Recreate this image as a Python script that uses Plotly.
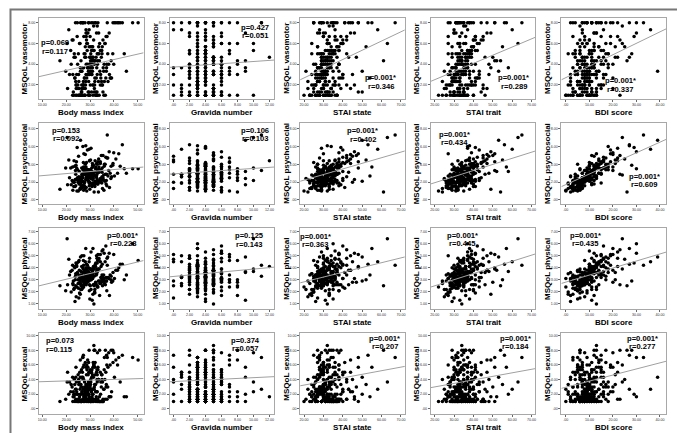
import plotly.graph_objects as go

# one value per woman, 240 women (lines of 20)
bmi = [24.5, 28.1, 31.2, 22.8, 26.4, 29.7, 33.5, 25.3, 27.9, 20.6, 30.4, 35.8, 23.7, 28.6, 26.0, 31.9, 17.4, 29.2, 38.1, 27.0,
       25.8, 29.4, 22.1, 32.6, 27.3, 34.9, 24.2, 30.8, 28.0, 36.7, 26.5, 31.3, 23.0, 29.9, 40.2, 27.6, 33.1, 25.1, 21.4, 30.1,
       26.9, 30.5, 23.4, 33.8, 28.4, 37.5, 25.6, 31.7, 29.0, 24.7, 35.2, 27.8, 32.2, 19.8, 29.6, 39.0, 26.2, 30.9, 28.7, 34.4,
       27.4, 31.0, 24.0, 34.6, 28.9, 38.4, 26.1, 32.4, 29.5, 22.5, 36.0, 30.2, 25.4, 33.0, 28.3, 44.3, 27.1, 31.6, 23.9, 35.5,
       28.2, 31.8, 25.0, 35.1, 29.3, 39.6, 26.7, 33.2, 30.0, 23.6, 36.9, 27.5, 32.9, 29.8, 41.5, 26.3, 31.4, 34.0, 24.8, 30.6,
       28.8, 32.3, 25.7, 36.3, 30.3, 40.8, 27.2, 33.7, 29.1, 24.3, 37.8, 31.1, 26.6, 34.7, 29.4, 45.2, 28.5, 32.0, 21.9, 35.9,
       29.3, 33.0, 26.4, 37.1, 30.7, 42.0, 27.7, 34.3, 31.5, 25.2, 38.8, 28.9, 35.0, 30.2, 50.1, 27.0, 32.7, 36.4, 23.3, 31.2,
       30.0, 33.6, 27.1, 38.0, 31.0, 43.5, 28.3, 35.4, 32.1, 26.0, 39.5, 29.6, 36.6, 20.4, 47.8, 28.0, 33.3, 31.7, 24.6, 37.2,
       27.6, 32.8, 24.9, 30.3, 35.4, 26.8, 29.0, 33.9, 22.7, 31.5, 28.6, 37.0, 25.5, 30.9, 27.2, 34.1, 29.7, 23.8, 32.0, 28.3,
       31.1, 26.2, 29.3, 36.2, 24.4, 30.6, 33.3, 27.9, 38.7, 25.9, 29.9, 32.5, 21.1, 34.8, 28.8, 31.8, 26.6, 42.6, 30.0, 27.4,
       29.5, 33.1, 25.3, 31.4, 27.0, 35.7, 28.4, 24.1, 32.3, 30.8, 26.9, 37.4, 29.1, 33.6, 23.2, 31.0, 28.0, 34.5, 26.1, 30.4,
       32.6, 27.7, 30.2, 25.8, 34.3, 29.4, 36.8, 26.5, 31.7, 28.9, 33.0, 24.0, 39.9, 30.5, 27.3, 35.0, 29.8, 22.9, 32.9, 28.2]
gravida = [3, 4, 2, 5, 4, 3, 6, 0, 4, 5, 3, 2, 4, 7, 5, 3, 4, 1, 6, 5,
           4, 3, 5, 2, 6, 4, 3, 5, 8, 4, 2, 3, 5, 4, 6, 3, 10, 4, 5, 1,
           5, 4, 3, 6, 2, 4, 5, 3, 7, 4, 0, 5, 3, 6, 4, 2, 5, 9, 3, 4,
           3, 5, 4, 2, 6, 3, 4, 5, 1, 4, 3, 6, 5, 8, 4, 2, 3, 5, 11, 4,
           4, 2, 5, 3, 6, 4, 7, 3, 5, 4, 0, 3, 6, 5, 2, 4, 3, 8, 5, 4,
           5, 3, 4, 6, 2, 5, 3, 4, 9, 3, 6, 4, 1, 5, 3, 7, 4, 2, 10, 6,
           3, 4, 6, 2, 5, 3, 4, 7, 5, 0, 4, 3, 6, 5, 8, 4, 2, 5, 12, 3,
           4, 5, 3, 6, 4, 2, 7, 5, 3, 9, 4, 1, 6, 10, 3, 5, 0, 8, 4, 11,
           4, 3, 5, 2, 4, 3, 6, 4, 5, 3, 2, 4, 5, 3, 7, 4, 1, 5, 3, 4,
           3, 5, 4, 6, 3, 2, 4, 5, 3, 4, 6, 5, 0, 4, 3, 5, 2, 4, 8, 3,
           5, 4, 3, 4, 2, 5, 6, 3, 4, 5, 3, 7, 4, 2, 5, 3, 4, 6, 1, 4,
           4, 3, 6, 5, 4, 3, 2, 5, 4, 9, 3, 4, 5, 6, 3, 4, 2, 5, 4, 3]
stai_state = [20, 26, 23, 29, 25, 31, 22, 27, 24, 30, 21, 28, 26, 32, 23, 25, 29, 27, 24, 28,
              23, 28, 25, 31, 27, 34, 22, 29, 26, 33, 24, 30, 28, 35, 25, 27, 32, 29, 26, 30,
              25, 30, 27, 33, 29, 36, 24, 31, 28, 35, 26, 32, 30, 38, 27, 29, 34, 31, 28, 32,
              26, 31, 28, 35, 30, 38, 25, 33, 29, 37, 27, 34, 31, 40, 28, 30, 36, 32, 29, 33,
              27, 32, 29, 37, 31, 41, 26, 34, 30, 39, 28, 35, 32, 43, 29, 31, 38, 33, 30, 36,
              28, 33, 30, 39, 32, 44, 27, 36, 31, 42, 29, 37, 34, 47, 30, 32, 40, 35, 31, 38,
              30, 35, 32, 42, 34, 48, 29, 38, 33, 45, 31, 40, 36, 52, 32, 34, 44, 37, 33, 55,
              33, 38, 35, 46, 37, 53, 31, 42, 36, 50, 34, 58, 40, 63, 35, 44, 48, 61, 39, 67,
              37, 27, 31, 33, 29, 41, 30, 35, 26, 32, 28, 38, 30, 34, 25, 31, 36, 29, 33, 27,
              46, 30, 37, 32, 27, 35, 29, 43, 30, 33, 24, 31, 36, 28, 32, 39, 29, 34, 26, 30,
              50, 29, 31, 38, 33, 26, 36, 30, 45, 32, 34, 28, 40, 30, 33, 37, 27, 31, 35, 29,
              54, 34, 29, 40, 32, 37, 30, 48, 33, 27, 35, 31, 38, 29, 34, 42, 30, 36, 28, 32]
stai_trait = [22, 29, 26, 32, 28, 34, 24, 30, 27, 33, 25, 31, 29, 35, 26, 28, 32, 30, 27, 31,
              24, 30, 27, 34, 29, 37, 25, 31, 28, 36, 26, 32, 30, 38, 27, 29, 35, 31, 28, 33,
              26, 32, 29, 36, 31, 39, 27, 33, 30, 38, 28, 34, 32, 40, 29, 31, 37, 33, 30, 35,
              27, 33, 30, 38, 32, 41, 28, 35, 31, 40, 29, 36, 33, 43, 30, 32, 39, 34, 31, 37,
              29, 35, 32, 40, 34, 44, 30, 37, 33, 42, 31, 38, 35, 46, 32, 34, 41, 36, 33, 39,
              30, 36, 33, 42, 35, 47, 31, 39, 34, 45, 32, 40, 37, 50, 33, 35, 44, 38, 34, 41,
              32, 38, 35, 45, 37, 51, 33, 41, 36, 48, 34, 43, 39, 55, 35, 37, 47, 40, 36, 57,
              34, 40, 37, 49, 39, 56, 35, 45, 38, 53, 36, 60, 42, 63, 37, 47, 51, 54, 41, 65,
              35, 29, 38, 33, 44, 32, 36, 34, 30, 40, 30, 36, 32, 39, 34, 28, 37, 33, 41, 31,
              36, 33, 46, 32, 38, 30, 35, 40, 33, 49, 33, 29, 37, 32, 42, 35, 31, 39, 34, 27,
              35, 48, 33, 39, 29, 36, 41, 34, 32, 52, 32, 38, 34, 30, 40, 36, 33, 43, 31, 37,
              30, 36, 51, 33, 40, 35, 43, 32, 37, 58, 35, 31, 39, 33, 45, 37, 32, 41, 34, 38]
bdi = [0, 2, 1, 4, 3, 5, 2, 6, 1, 3, 4, 0, 2, 5, 3, 1, 6, 4, 2, 3,
       3, 5, 7, 2, 6, 4, 8, 5, 9, 3, 6, 7, 4, 5, 2, 8, 6, 3, 7, 5,
       6, 8, 4, 10, 7, 5, 9, 11, 6, 8, 7, 4, 10, 9, 6, 8, 5, 11, 7, 9,
       8, 10, 6, 12, 9, 7, 11, 13, 8, 10, 5, 9, 12, 11, 7, 10, 8, 13, 9, 11,
       10, 12, 7, 14, 9, 11, 13, 8, 15, 10, 12, 6, 11, 14, 9, 13, 10, 12, 15, 11,
       12, 15, 9, 17, 11, 14, 10, 18, 13, 16, 8, 12, 15, 11, 17, 14, 10, 13, 16, 12,
       14, 18, 11, 22, 16, 13, 20, 15, 24, 12, 17, 19, 10, 21, 15, 18, 13, 23, 16, 20,
       18, 25, 15, 30, 21, 27, 17, 23, 22, 39, 28, 36, 16, 24, 30, 20, 19, 26, 29, 33,
       6, 9, 7, 11, 8, 4, 10, 7, 13, 6, 9, 5, 11, 8, 15, 7, 10, 8, 6, 12,
       8, 5, 10, 7, 13, 9, 6, 11, 8, 3, 10, 7, 16, 8, 12, 6, 9, 13, 8, 19,
       7, 11, 9, 6, 12, 10, 8, 14, 7, 11, 9, 17, 8, 12, 5, 10, 14, 9, 7, 22,
       10, 7, 12, 9, 15, 11, 8, 13, 10, 12, 6, 11, 20, 9, 13, 10, 16, 8, 11, 27]
vasomotor = [1, 2, 1, 3, 1.33, 4, 2.33, 1, 5, 1.67, 3.33, 1, 2.67, 6, 1, 2, 4.33, 1.33, 3, 8,
             1, 2.33, 4, 1, 3.67, 5.33, 1.67, 3, 1, 6.67, 2, 4.67, 1.33, 3.33, 8, 2.67, 1, 5, 3, 2,
             1.67, 3, 5, 1, 4, 2.33, 6, 1.33, 3.67, 8, 2, 4.67, 1, 3.33, 5.67, 2.67, 1, 4.33, 7, 3,
             2, 3.33, 1, 5.33, 4, 2.67, 8, 1.33, 3.67, 6.33, 2.33, 4.67, 1, 3, 7.33, 5, 2, 4.33, 8, 3.67,
             2.33, 4, 1.67, 5.67, 3, 8, 1, 4.33, 6.67, 2.67, 3.67, 5, 1.33, 4.67, 8, 3.33, 2, 6, 4, 5.33,
             3, 4.33, 1, 6, 3.67, 8, 2.33, 5, 7, 2, 4, 5.67, 1.67, 4.67, 8, 3.33, 6.33, 2.67, 5.33, 4,
             3.33, 5, 1.33, 6.67, 4, 8, 2.67, 5.33, 7.67, 3, 4.33, 6, 2, 5.67, 8, 3.67, 7, 1, 4.67, 8,
             4, 5.67, 2, 7, 4.67, 8, 3, 6.33, 8, 3.33, 5, 7.33, 2.67, 6, 8, 1.67, 8, 4.33, 6.67, 8,
             1, 3.67, 2, 5, 1.33, 8, 3, 4.33, 1, 6.33, 2.67, 4, 1.67, 5.67, 8, 3.33, 1, 4.67, 2.33, 7,
             2, 4.33, 1, 6, 3, 1.33, 5, 8, 2.67, 3.67, 1, 4.67, 7.33, 2.33, 5.33, 1.67, 3.33, 8, 4, 6.67,
             1.33, 4, 2.33, 5.33, 1, 3.33, 6.67, 2, 8, 4.33, 1.67, 5, 3, 7, 1, 3.67, 5.67, 2.67, 8, 4.67,
             2.67, 1, 4.33, 6, 2, 8, 3.33, 1.33, 5.33, 3.67, 7.67, 2.33, 4, 8, 1.67, 5, 3, 6.33, 1, 4.67]
psychosocial = [1.0, 1.4, 1.9, 1.1, 2.2, 1.6, 0.9, 2.0, 1.3, 1.7, 2.4, 1.1, 1.5, 1.0, 2.1, 1.8, 1.2, 2.6, 1.4, 1.6,
                1.3, 2.1, 1.7, 2.6, 1.1, 1.9, 2.3, 1.5, 2.9, 1.8, 1.4, 2.4, 2.0, 1.2, 2.7, 1.6, 2.2, 1.0, 2.5, 1.9,
                1.6, 2.4, 2.0, 3.1, 1.4, 2.7, 2.2, 1.8, 3.4, 2.5, 1.3, 2.9, 2.1, 3.6, 1.9, 2.6, 2.3, 1.7, 3.0, 2.4,
                2.0, 2.8, 1.6, 3.4, 2.4, 3.0, 1.9, 3.7, 2.6, 2.2, 4.0, 2.9, 1.8, 3.2, 2.5, 3.5, 2.1, 2.7, 3.3, 2.3,
                2.3, 3.1, 2.0, 3.6, 2.7, 4.1, 2.5, 3.3, 1.9, 3.8, 2.9, 3.5, 2.4, 4.4, 3.0, 2.6, 3.9, 2.2, 3.4, 3.2,
                2.6, 3.5, 2.2, 4.0, 3.1, 4.6, 2.8, 3.7, 2.4, 4.3, 3.3, 3.9, 2.9, 5.0, 3.4, 3.0, 4.2, 2.7, 3.6, 3.8,
                3.0, 4.0, 2.5, 4.7, 3.6, 5.2, 3.3, 4.3, 2.8, 4.9, 3.8, 5.6, 3.1, 4.5, 3.5, 6.0, 4.1, 2.9, 4.4, 3.7,
                3.4, 4.6, 3.0, 5.4, 4.1, 6.2, 3.7, 5.0, 4.4, 6.7, 3.9, 5.7, 4.8, 7.0, 3.5, 5.1, 4.3, 0.9, 5.9, 7.3,
                1.9, 2.8, 2.2, 3.3, 2.5, 1.4, 3.0, 2.1, 3.7, 1.8, 2.6, 1.6, 3.2, 2.4, 4.2, 2.0, 2.9, 2.3, 1.5, 3.5,
                2.3, 1.6, 2.9, 2.1, 3.6, 2.7, 1.8, 3.1, 2.4, 1.2, 2.8, 2.0, 4.5, 2.2, 3.4, 1.7, 2.6, 3.8, 2.5, 5.2,
                2.1, 3.0, 2.6, 1.9, 3.4, 2.8, 2.3, 3.9, 2.0, 3.2, 2.5, 4.7, 2.2, 3.5, 1.5, 2.9, 4.0, 2.4, 1.9, 5.8,
                2.7, 2.0, 3.3, 2.4, 4.1, 3.0, 2.2, 3.6, 2.8, 3.2, 1.8, 2.9, 5.3, 2.5, 3.7, 2.6, 4.4, 2.1, 3.1, 6.1]
physical = [2.4, 3.0, 1.8, 2.7, 3.3, 2.1, 2.9, 1.5, 3.5, 2.6, 2.2, 3.1, 1.2, 2.8, 3.4, 2.0, 2.5, 3.2, 1.7, 2.9,
            2.7, 3.3, 2.0, 3.6, 2.4, 3.0, 1.6, 3.8, 2.8, 3.2, 2.2, 3.5, 2.9, 1.4, 3.1, 2.6, 3.9, 2.3, 3.4, 2.5,
            2.9, 3.5, 2.3, 3.9, 2.6, 3.2, 1.9, 4.1, 3.0, 3.6, 2.5, 3.3, 4.3, 2.1, 3.4, 2.8, 3.7, 1.3, 3.1, 2.7,
            3.1, 3.7, 2.5, 4.1, 2.8, 3.4, 2.2, 4.4, 3.2, 3.8, 2.7, 3.5, 4.6, 2.4, 3.6, 3.0, 3.9, 1.0, 3.3, 2.9,
            3.3, 3.9, 2.7, 4.3, 3.0, 3.6, 2.4, 4.6, 3.4, 4.0, 2.9, 3.7, 4.8, 2.6, 3.8, 3.2, 4.1, 1.7, 3.5, 3.1,
            3.5, 4.1, 2.9, 4.5, 3.2, 3.8, 2.6, 4.8, 3.6, 4.2, 3.1, 3.9, 5.0, 2.8, 4.0, 3.4, 4.3, 2.2, 3.7, 5.2,
            3.7, 4.4, 3.1, 4.8, 3.4, 4.0, 2.8, 5.1, 3.9, 4.5, 3.3, 4.2, 5.4, 3.0, 4.6, 3.6, 5.0, 2.6, 4.1, 5.6,
            3.9, 4.7, 3.2, 5.2, 3.6, 4.3, 3.0, 5.5, 4.1, 4.9, 2.9, 4.5, 5.8, 6.4, 6.0, 3.8, 5.1, 2.5, 4.4, 4.2,
            2.8, 3.5, 3.0, 3.9, 3.2, 2.3, 3.6, 2.9, 4.2, 2.6, 3.4, 2.1, 3.8, 3.1, 4.6, 2.7, 3.3, 3.0, 1.9, 4.0,
            3.1, 2.5, 3.6, 2.9, 4.1, 3.3, 2.4, 3.8, 3.0, 1.8, 3.5, 2.7, 4.7, 3.2, 3.9, 2.6, 3.4, 4.3, 3.0, 5.0,
            2.9, 3.7, 3.3, 2.6, 4.0, 3.4, 3.0, 4.4, 2.8, 3.8, 3.2, 4.9, 3.1, 3.9, 2.2, 3.5, 4.5, 3.2, 2.7, 5.3,
            3.4, 2.8, 3.9, 3.1, 4.5, 3.6, 2.9, 4.1, 3.3, 3.7, 2.5, 3.5, 5.1, 3.0, 4.2, 3.4, 4.8, 2.6, 3.8, 5.6]
sexual = [1, 1.33, 2, 1, 3, 1.67, 4, 1, 2.33, 5, 1.33, 2.67, 1, 6, 2, 3.33, 1, 4.67, 1.67, 7,
          1, 2, 3.33, 1.33, 4, 1, 2.67, 5.33, 1.67, 3, 1, 6.33, 2.33, 1.33, 4.33, 2, 7.67, 1, 3.67, 5,
          1.33, 2.33, 4, 1, 3, 5.67, 1.67, 2.67, 6.67, 1, 3.67, 2, 4.67, 1.33, 8, 2.33, 3.33, 1, 5.33, 2,
          1.67, 2.67, 4.33, 1, 3.33, 6, 2, 1.33, 5, 3, 7, 1, 3.67, 2.33, 5.67, 1.67, 4, 8.67, 2.67, 1,
          2, 3, 4.67, 1, 3.67, 6.33, 2.33, 1.33, 5.33, 3.33, 7.33, 1.67, 4, 2.67, 6, 1, 4.33, 8, 2, 5,
          2.33, 3.33, 5, 1.33, 4, 6.67, 2.67, 1, 5.67, 3.67, 7.67, 2, 4.33, 3, 6.33, 1.67, 4.67, 8, 2.33, 5.33,
          2.67, 3.67, 5.33, 1.33, 4.33, 7, 3, 1, 6, 4, 8, 2.33, 4.67, 3.33, 6.67, 2, 5, 8, 1.67, 5.67,
          3, 4, 5.67, 1.67, 4.67, 7.33, 3.33, 1.33, 6.33, 4.33, 8, 2.67, 5, 3.67, 7, 2.33, 5.67, 8, 2, 7,
          1, 2.33, 1.33, 3.67, 1, 5, 2, 1.67, 4.33, 1, 3, 6, 1.33, 2.67, 7.33, 1, 3.33, 2, 5.67, 1.67,
          1.33, 3, 1, 4, 2.33, 1, 5.33, 2.67, 1.67, 6.67, 3.33, 1, 2, 4.67, 1.33, 8, 2.33, 3.67, 1, 6,
          2, 1, 3.33, 1.33, 4.33, 2.67, 1, 5.67, 2.33, 1.67, 7, 3, 1, 4, 2, 1.33, 6.33, 3.67, 1, 5,
          1.67, 3.67, 1, 2.67, 5, 1.33, 3.33, 1, 6, 2, 4.67, 1.33, 7.67, 2.33, 1, 4, 3, 1.67, 5.33, 2.67]

x_titles = ['Body mass index', 'Gravida number', 'STAI state', 'STAI trait', 'BDI score']
y_titles = ['MSQoL vasomotor', 'MSQoL psychosocial', 'MSQoL physical', 'MSQoL sexual']

p_labels = [['p=0.069', 'p=0.427', 'p=0.001*', 'p=0.001*', 'p=0.001*'],
            ['p=0.153', 'p=0.106', 'p=0.001*', 'p=0.001*', 'p=0.001*'],
            ['p=0.001*', 'p=0.125', 'p=0.001*', 'p=0.001*', 'p=0.001*'],
            ['p=0.073', 'p=0.374', 'p=0.001*', 'p=0.001*', 'p=0.001*']]
r_labels = [['r=0.117', 'r=0.051', 'r=0.346', 'r=0.289', 'r=0.337'],
            ['r=0.092', 'r=0.103', 'r=0.402', 'r=0.434', 'r=0.609'],
            ['r=0.228', 'r=0.143', 'r=0.363', 'r=0.445', 'r=0.435'],
            ['r=0.115', 'r=0.057', 'r=0.207', 'r=0.184', 'r=0.277']]

# fitted line, y value at the left and right end of each x axis
fit_left = [[2.8, 3.7, 2.5, 2.35, 2.5],
            [2.7, 2.9, 2.1, 1.8, 1.5],
            [2.5, 3.25, 2.75, 2.4, 2.7],
            [3.7, 3.7, 3.15, 2.9, 2.8]]
fit_right = [[5.1, 4.4, 7.3, 6.6, 7.4],
             [3.7, 3.7, 5.5, 5.5, 6.8],
             [4.6, 4.05, 4.9, 5.15, 5.3],
             [4.15, 4.4, 5.8, 5.5, 6.5]]

x_tickvals = [[10, 20, 30, 40, 50],
              [0, 2, 4, 6, 8, 10, 12],
              [20, 30, 40, 50, 60, 70],
              [20, 30, 40, 50, 60, 70],
              [0, 10, 20, 30, 40]]
x_ticktext = [['10.00', '20.00', '30.00', '40.00', '50.00'],
              ['.00', '2.00', '4.00', '6.00', '8.00', '10.00', '12.00'],
              ['20.00', '30.00', '40.00', '50.00', '60.00', '70.00'],
              ['20.00', '30.00', '40.00', '50.00', '60.00', '70.00'],
              ['.00', '10.00', '20.00', '30.00', '40.00']]
y_tickvals = [[2, 4, 6, 8],
              [0, 2, 4, 6, 8],
              [1, 2, 3, 4, 5, 6, 7],
              [0, 2, 4, 6, 8, 10]]
y_ticktext = [['2.00', '4.00', '6.00', '8.00'],
              ['.00', '2.00', '4.00', '6.00', '8.00'],
              ['1.00', '2.00', '3.00', '4.00', '5.00', '6.00', '7.00'],
              ['.00', '2.00', '4.00', '6.00', '8.00', '10.00']]

xs = [bmi, gravida, stai_state, stai_trait, bdi]
ys = [vasomotor, psychosocial, physical, sexual]

# ---- layout (pixels) ----
W, H = 685, 433
x_ranges = [[8.6, 52.4], [-0.5, 12.6], [18, 72], [18, 72], [-1.9, 42.6]]
y_ranges = [[0.65, 8.45], [-0.45, 8.64], [0.58, 7.3], [-0.7, 10.36]]
col_left = [30, 161, 292, 423, 554]
row_top = [10, 115, 220, 325]
pw, ph = 105, 81
# label centres: (x, y of p line, y of r line)
label_pos = [[(46, 34, 43), (247, 19.5, 28), (373, 70, 79), (506, 70, 78.5), (613, 73, 81.5)],
             [(57, 122, 130.5), (247, 122, 130.5), (355, 122, 131), (447, 126, 134.5), (637, 168, 176.5)],
             [(114, 227, 235.5), (241, 227.5, 236), (307, 228, 236.5), (455, 227, 235.5), (578, 227, 235.5)],
             [(51, 332.5, 341), (237, 332, 340.5), (377, 330, 338.5), (508, 330, 338.5), (635, 330, 338.5)]]

FONT = 'Liberation Sans, Arial, sans-serif'
bold = dict(family=FONT, size=8, color='black', weight='bold')

fig = go.Figure()
layout = dict(width=W, height=H, margin=dict(l=0, r=0, t=0, b=0, pad=0),
              paper_bgcolor='white', plot_bgcolor='white', showlegend=False)
annotations = []

def px(x):
    return x / W

def py(y):
    return 1 - y / H

for i in range(4):
    for j in range(5):
        k = i * 5 + j + 1
        xa = 'x' if k == 1 else 'x%d' % k
        ya = 'y' if k == 1 else 'y%d' % k
        fig.add_trace(go.Scatter(x=xs[j], y=ys[i], mode='markers', xaxis=xa, yaxis=ya,
                                 marker=dict(color='black', size=3.5, line=dict(width=0)),
                                 hoverinfo='skip'))
        fig.add_trace(go.Scatter(x=x_ranges[j], y=[fit_left[i][j], fit_right[i][j]], mode='lines',
                                 xaxis=xa, yaxis=ya, line=dict(color='#a0a0a0', width=1),
                                 hoverinfo='skip'))
        l, t = col_left[j], row_top[i]
        common = dict(showgrid=False, zeroline=False, showline=True, mirror=True,
                      linecolor='#a8a8a8', linewidth=1, ticks='outside', ticklen=2,
                      tickwidth=0.6, tickcolor='#666',
                      tickfont=dict(family=FONT, size=3.6, color='#333'))
        layout['xaxis%d' % k] = dict(common, domain=[px(l), px(l + pw)], anchor=ya,
                                     range=x_ranges[j], tickvals=x_tickvals[j],
                                     ticktext=x_ticktext[j])
        layout['yaxis%d' % k] = dict(common, domain=[py(t + ph), py(t)], anchor=xa,
                                     range=y_ranges[i], tickvals=y_tickvals[i],
                                     ticktext=y_ticktext[i])
        annotations.append(dict(text=x_titles[j], x=px(l + pw / 2), y=py(t + ph + 13.5),
                                xref='paper', yref='paper', showarrow=False,
                                xanchor='center', yanchor='middle', font=bold))
        annotations.append(dict(text=y_titles[i], x=px(l - 14), y=py(t + ph / 2),
                                xref='paper', yref='paper', showarrow=False, textangle=-90,
                                xanchor='center', yanchor='middle', font=bold))
        cx, yp, yr = label_pos[i][j]
        annotations.append(dict(text=p_labels[i][j], x=px(cx), y=py(yp), xref='paper',
                                yref='paper', showarrow=False, xanchor='center',
                                yanchor='middle', font=dict(bold, size=7.6)))
        annotations.append(dict(text=r_labels[i][j], x=px(cx), y=py(yr), xref='paper',
                                yref='paper', showarrow=False, xanchor='center',
                                yanchor='middle', font=dict(bold, size=7.6)))

layout['xaxis'] = layout.pop('xaxis1')
layout['yaxis'] = layout.pop('yaxis1')
layout['annotations'] = annotations
layout['shapes'] = [dict(type='rect', xref='paper', yref='paper', x0=px(1.5), x1=px(683),
                         y0=py(431), y1=py(1.5), line=dict(color='#777', width=2))]
fig.update_layout(**layout)
fig.write_html('out.html')
